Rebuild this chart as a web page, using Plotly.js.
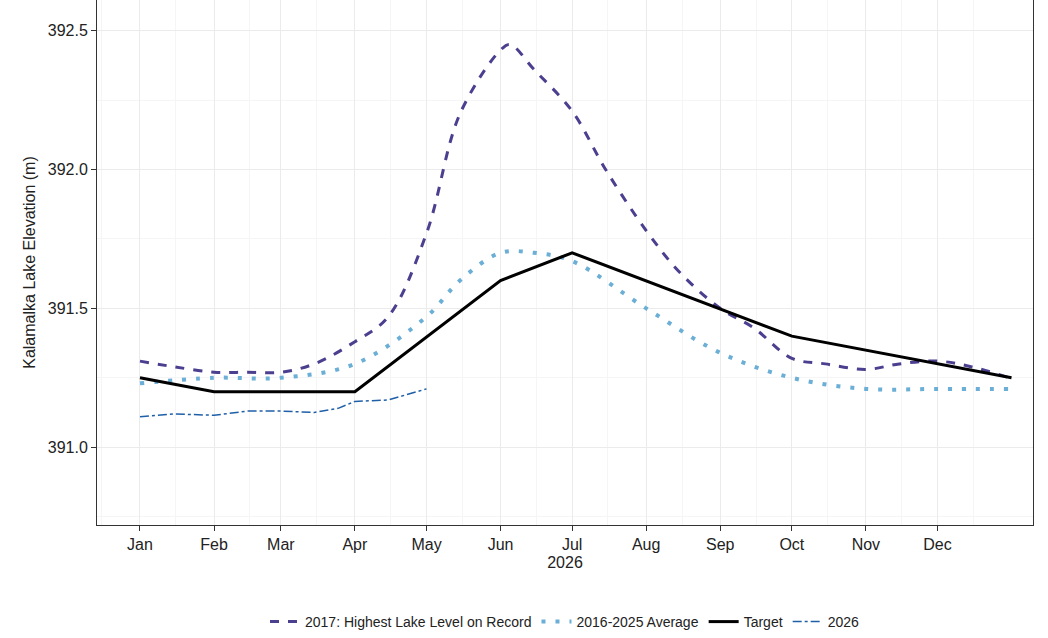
<html><head><script src="https://cdn.plot.ly/plotly-3.0.1.min.js"></script></head>
<body style="margin:0"><div id="chart" style="width:1048px;height:638px"></div>
<script>
const recDates = ['2026-01-01','2026-01-15','2026-02-01','2026-02-15','2026-03-01','2026-03-15','2026-04-01','2026-04-15','2026-05-01','2026-05-15','2026-06-01','2026-06-05','2026-06-15','2026-07-01','2026-07-15','2026-08-01','2026-08-15','2026-09-01','2026-09-15','2026-10-01','2026-10-15','2026-11-01','2026-11-15','2026-12-01','2026-12-15','2026-12-31'];
const recVals = [391.31,391.29,391.27,391.27,391.27,391.30,391.38,391.47,391.77,392.20,392.43,392.45,392.36,392.21,392.00,391.78,391.63,391.50,391.43,391.32,391.30,391.28,391.30,391.31,391.29,391.25];
const avgDates = ['2026-01-01','2026-02-01','2026-03-01','2026-04-01','2026-05-01','2026-05-15','2026-06-01','2026-06-15','2026-07-01','2026-08-01','2026-09-01','2026-10-01','2026-11-01','2026-12-01','2026-12-31'];
const avgVals = [391.23,391.25,391.25,391.30,391.47,391.60,391.70,391.70,391.67,391.50,391.34,391.25,391.21,391.21,391.21];
const tgtDates = ['2026-01-01','2026-02-01','2026-04-01','2026-06-01','2026-07-01','2026-10-01','2027-01-01'];
const tgtVals = [391.25,391.20,391.20,391.60,391.70,391.40,391.25];
const curDates = ['2026-01-01','2026-01-15','2026-02-01','2026-02-15','2026-03-01','2026-03-15','2026-03-25','2026-04-01','2026-04-15','2026-05-01'];
const curVals = [391.11,391.12,391.115,391.13,391.13,391.125,391.14,391.165,391.17,391.21];
const tickVals = ['2026-01-01','2026-02-01','2026-03-01','2026-04-01','2026-05-01','2026-06-01','2026-07-01','2026-08-01','2026-09-01','2026-10-01','2026-11-01','2026-12-01'];
const tickText = ['Jan','Feb','Mar','Apr','May','Jun','Jul','Aug','Sep','Oct','Nov','Dec'];

const data = [
  {x: recDates, y: recVals, name: '2017: Highest Lake Level on Record', mode: 'lines', line: {color: '#4B3F8F', width: 3, dash: 'dash', shape: 'spline'}},
  {x: avgDates, y: avgVals, name: '2016-2025 Average', mode: 'lines', line: {color: '#6BAED6', width: 4, dash: '4px,10px', shape: 'spline'}},
  {x: tgtDates, y: tgtVals, name: 'Target', mode: 'lines', line: {color: '#000', width: 3}},
  {x: curDates, y: curVals, name: '2026', mode: 'lines', line: {color: '#1F5FA8', width: 1.5, dash: 'dashdot'}}
];
const layout = {
  paper_bgcolor: '#fff', plot_bgcolor: '#fff',
  font: {family: 'Arial, Liberation Sans', size: 16, color: '#222'},
  margin: {t: 0, r: 15, b: 100, l: 97},
  xaxis: {type: 'date', range: ['2025-12-14', '2027-01-10'], tickvals: tickVals, ticktext: tickText,
    ticks: 'outside', ticklen: 5, tickcolor: '#333', showline: true, linecolor: '#333', mirror: true,
    gridcolor: '#ebebeb', zeroline: false, tickfont: {size: 16, color: '#222'},
    minor: {dtick: 'M1', tick0: '2026-01-16', showgrid: true, gridcolor: '#f5f5f5'},
    title: {text: '2026', font: {size: 16}, standoff: 4}},
  yaxis: {range: [390.72, 392.61], tickvals: [391.0, 391.5, 392.0, 392.5], ticktext: ['391.0','391.5','392.0','392.5'],
    ticks: 'outside', ticklen: 5, tickcolor: '#333', showline: true, linecolor: '#333', mirror: true,
    gridcolor: '#ebebeb', zeroline: false, tickfont: {size: 16, color: '#222'},
    minor: {dtick: 0.25, tick0: 390.75, showgrid: true, gridcolor: '#f5f5f5'},
    title: {text: 'Kalamalka Lake Elevation (m)', font: {size: 16}, standoff: 8}},
  showlegend: true,
  legend: {orientation: 'h', x: 0.5, xanchor: 'center', y: -0.185, yanchor: 'middle', font: {size: 14}}
};
Plotly.newPlot('chart', data, layout, {displayModeBar: false});
</script></body></html>
